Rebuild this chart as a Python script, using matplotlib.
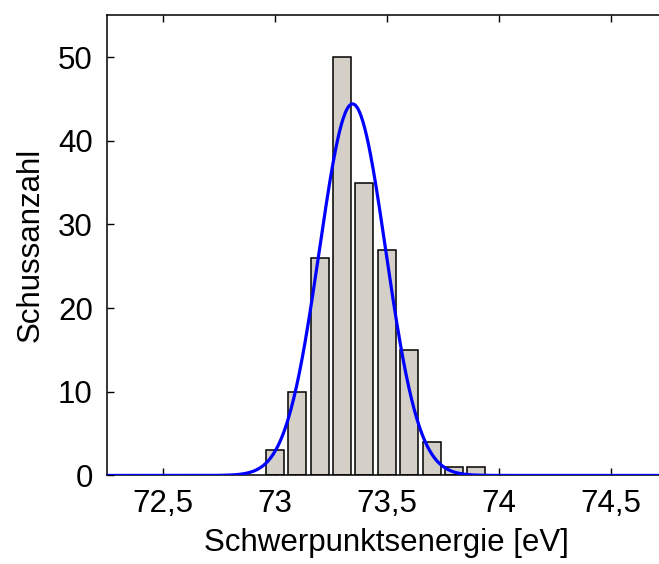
import numpy as np
import matplotlib
matplotlib.use("Agg")
import matplotlib.pyplot as plt

plt.rcParams['font.family'] = ['Liberation Sans', 'DejaVu Sans']

# histogram data
bin_centers = [73.0, 73.1, 73.2, 73.3, 73.4, 73.5, 73.6, 73.7, 73.8, 73.9]
counts = [3, 10, 26, 50, 35, 27, 15, 4, 1, 1]

# gaussian fit parameters
fit_mu = 73.347
fit_sigma = 0.148
fit_amp = 44.4

xtick_pos = [72.5, 73.0, 73.5, 74.0, 74.5]
xtick_labels = ["72,5", "73", "73,5", "74", "74,5"]
ytick_pos = [0, 10, 20, 30, 40, 50]

fig = plt.figure(figsize=(6.59, 5.64), dpi=100)
ax = fig.add_axes([0.162, 0.157, 0.85, 0.816])

ax.bar(bin_centers, counts, width=0.08, color="#D4D0C8", edgecolor="black",
       linewidth=1.1, zorder=2)

x = np.linspace(72.25, 74.75, 600)
y = fit_amp * np.exp(-0.5 * ((x - fit_mu) / fit_sigma) ** 2)
ax.plot(x, y, color="#0000FF", linewidth=2.3, zorder=3)

ax.set_xlim(72.25, 74.75)
ax.set_ylim(0, 55)
ax.set_xticks(xtick_pos)
ax.set_xticklabels(xtick_labels)
ax.set_yticks(ytick_pos)

ax.spines['right'].set_visible(False)
for s in ['left', 'bottom', 'top']:
    ax.spines[s].set_linewidth(1.1)
ax.tick_params(direction='in', length=5, width=1.0, labelsize=22.5, top=True,
               right=False, pad=10)

ax.set_xlabel("Schwerpunktsenergie [eV]", fontsize=22.5, labelpad=6)
ax.set_ylabel("Schussanzahl", fontsize=22.5, labelpad=9)

fig.savefig("out.png", dpi=100)
